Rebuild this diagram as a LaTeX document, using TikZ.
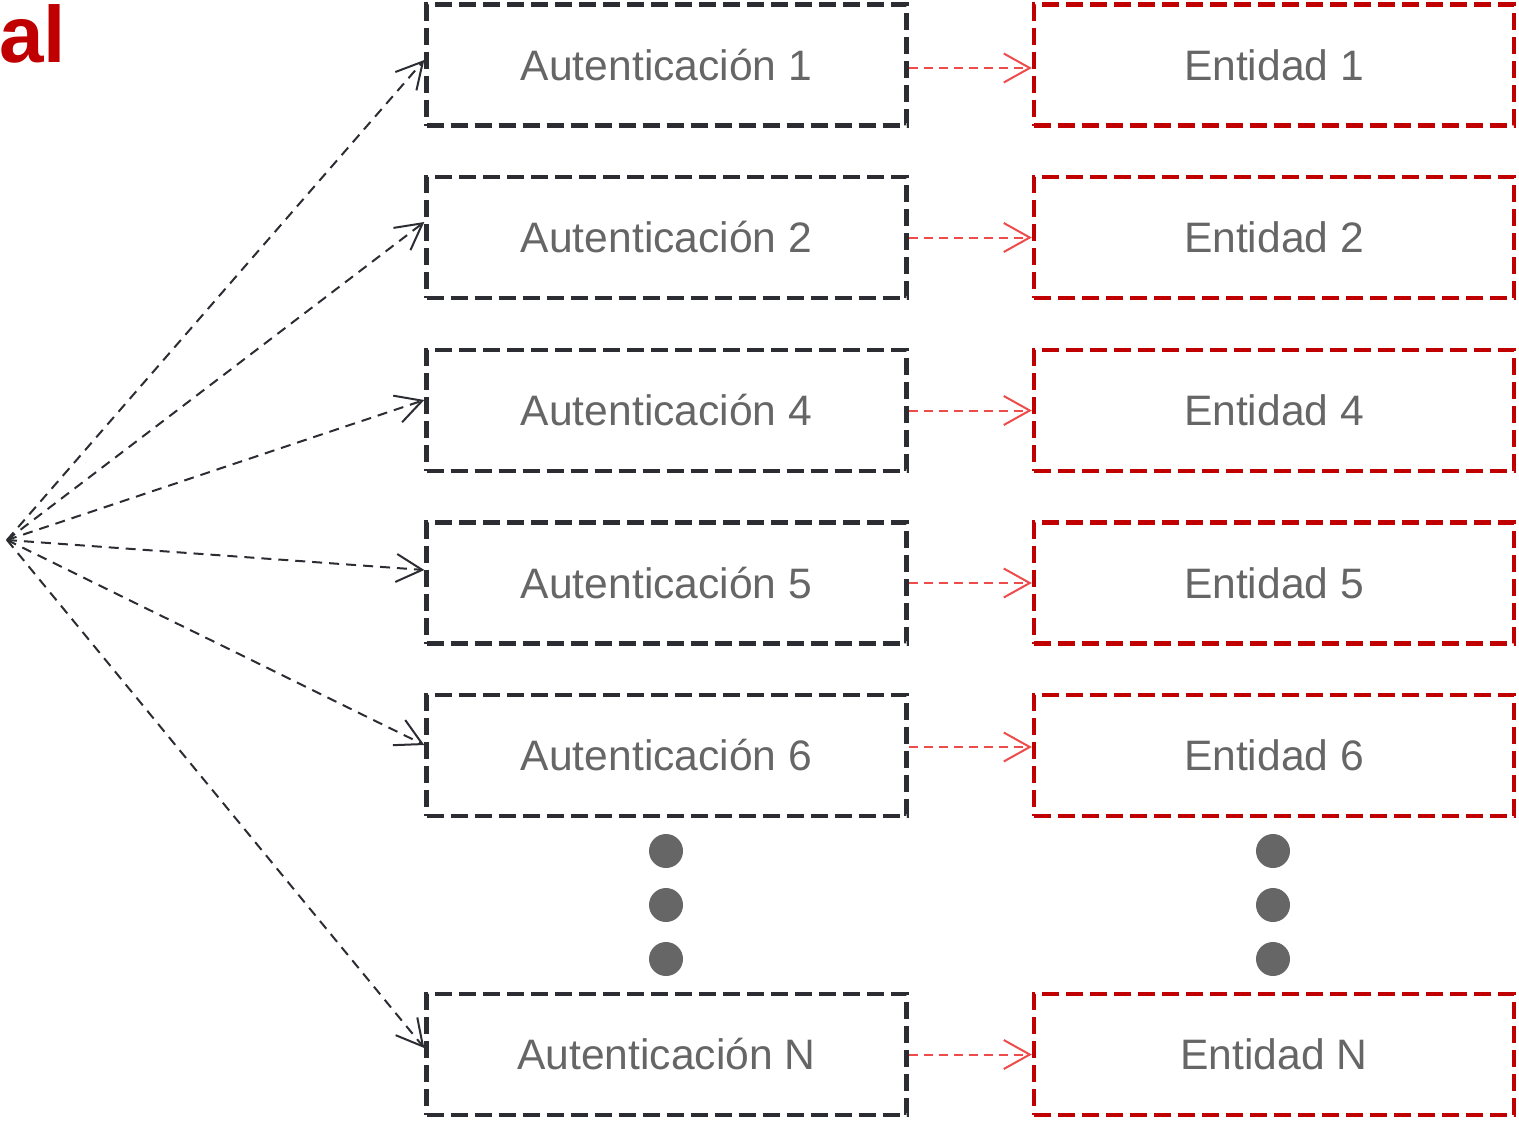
\documentclass[tikz,border=0pt]{standalone}
\usepackage{fontspec}
\setmainfont{Liberation Sans}
\usetikzlibrary{arrows.meta}
\definecolor{boxdark}{HTML}{2B2D33}
\definecolor{boxred}{HTML}{C00000}
\definecolor{arrred}{HTML}{EE4B4B}
\definecolor{txtgray}{HTML}{666666}
\definecolor{dotgray}{HTML}{666666}
\begin{document}
\begin{tikzpicture}[x=0.5pt,y=-0.5pt,
  basebox/.style={line width=2.2pt,dash pattern=on 8.5pt off 3.5pt,minimum width=240pt,minimum height=60.5pt,inner sep=0pt,font=\fontsize{21.3pt}{24pt}\selectfont,text=txtgray},
  authbox/.style={basebox,draw=boxdark},
  entbox/.style={basebox,draw=boxred},
  conn/.style={draw=boxdark,line width=1pt,dash pattern=on 5pt off 3.5pt,-{Straight Barb[length=13pt,width=14pt,line width=1pt]}},
  redconn/.style={draw=arrred,line width=1pt,dash pattern=on 4.5pt off 3pt,-{Straight Barb[length=13pt,width=14.5pt,line width=1pt]}},
  dot/.style={circle,fill=dotgray,minimum size=17pt,inner sep=0pt}
]
\useasboundingbox (0,0) rectangle (1519,1124);
\node[anchor=base west,text=boxred,font=\bfseries\fontsize{40pt}{42pt}\selectfont,inner sep=0pt] (title) at (-1,62) {al};
\node[authbox] (a1) at (666.5,65) {Autenticación 1};
\node[authbox] (a2) at (666.5,237.5) {Autenticación 2};
\node[authbox] (a4) at (666.5,410.5) {Autenticación 4};
\node[authbox] (a5) at (666.5,583) {Autenticación 5};
\node[authbox] (a6) at (666.5,755.5) {Autenticación 6};
\node[authbox] (aN) at (666.5,1054.5) {Autenticación N};
\node[entbox] (e1) at (1274,65) {Entidad 1};
\node[entbox] (e2) at (1274,237.5) {Entidad 2};
\node[entbox] (e4) at (1274,410.5) {Entidad 4};
\node[entbox] (e5) at (1274,583) {Entidad 5};
\node[entbox] (e6) at (1274,755.5) {Entidad 6};
\node[entbox] (eN) at (1274,1054.5) {Entidad N};
\node[dot] (ld1) at (666,851) {};
\node[dot] (ld2) at (666,905) {};
\node[dot] (ld3) at (666,959) {};
\node[dot] (rd1) at (1273,851) {};
\node[dot] (rd2) at (1273,905) {};
\node[dot] (rd3) at (1273,959) {};
\coordinate (o) at (7,540);
\draw[conn] (o) -- ([yshift=2.5pt]a1.west);
\draw[conn] (o) -- ([yshift=7.75pt]a2.west);
\draw[conn] (o) -- ([yshift=5.25pt]a4.west);
\draw[conn] (o) -- ([yshift=6.5pt]a5.west);
\draw[conn] (o) -- ([yshift=5.25pt]a6.west);
\draw[conn] (o) -- ([yshift=3.25pt]aN.west);
\draw[redconn] ([yshift=-1.5pt]a1.east) -- ([yshift=-1.5pt]e1.west);
\draw[redconn] (a2.east) -- (e2.west);
\draw[redconn] (a4.east) -- (e4.west);
\draw[redconn] (a5.east) -- (e5.west);
\draw[redconn] ([yshift=4.25pt]a6.east) -- ([yshift=4.25pt]e6.west);
\draw[redconn] (aN.east) -- (eN.west);
\end{tikzpicture}
\end{document}
